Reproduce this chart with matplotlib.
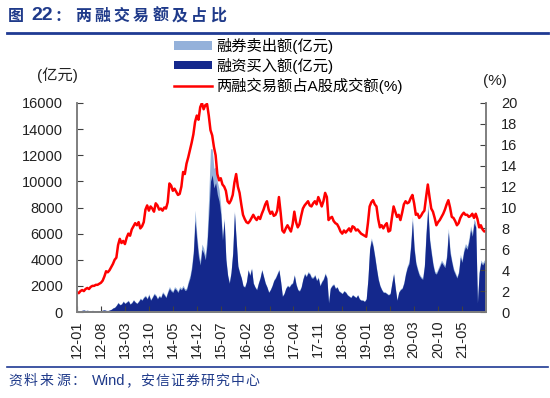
import matplotlib
matplotlib.use("Agg")
import matplotlib.pyplot as plt
import pandas as pd
import numpy as np

plt.rcParams["font.family"] = ["Liberation Sans", "Noto Sans CJK SC", "DejaVu Sans"]

# semi-monthly readings, 2012-01 .. 2021-11
start, end = "2012-01-01", "2021-12-01"

ratio_pct = [
    1.9, 1.8, 2.0, 2.1, 2.0, 2.2, 2.3, 2.2, 2.4, 2.5, 2.5, 2.6, 2.6, 2.7, 2.8, 3.0,
    3.4, 3.9, 3.8, 4.0, 4.3, 4.6, 5.0, 5.2, 6.4, 7.0, 6.6, 6.8, 6.5, 7.1, 7.5, 7.3,
    7.9, 8.2, 8.5, 8.3, 8.6, 8.0, 8.2, 8.6, 9.8, 10.2, 9.7, 10.1, 9.9, 9.6, 10.4, 10.2,
    9.8, 9.9, 9.7, 10.0, 9.9, 10.5, 12.3, 12.1, 11.6, 11.8, 11.5, 11.2, 11.3, 12.0, 13.4, 13.2,
    14.2, 14.8, 15.5, 16.2, 17.0, 18.2, 18.8, 18.4, 19.6, 20.0, 19.4, 19.8, 19.9, 18.8, 17.4, 16.9,
    15.8, 15.0, 13.2, 12.6, 12.8, 12.2, 12.0, 11.6, 10.6, 10.4, 10.7, 11.2, 12.4, 13.2, 12.0, 11.4,
    10.3, 9.3, 8.9, 8.6, 8.5, 8.7, 9.0, 9.3, 9.0, 8.8, 9.1, 8.9, 9.4, 9.8, 10.3, 10.6,
    9.8, 9.4, 9.6, 9.2, 9.3, 9.7, 11.0, 9.5, 7.8, 7.6, 8.0, 8.3, 8.0, 7.7, 8.4, 9.6,
    8.6, 8.1, 8.4, 9.2, 9.9, 10.2, 10.4, 10.6, 10.2, 10.1, 10.4, 10.6, 10.3, 11.0, 10.6, 10.1,
    10.6, 11.4, 11.0, 8.8, 9.0, 9.1, 8.7, 8.5, 8.4, 8.1, 7.7, 7.5, 7.8, 7.6, 7.8, 8.0,
    7.7, 8.2, 8.1, 7.8, 7.9, 7.7, 7.5, 7.4, 7.3, 7.2, 8.5, 10.1, 10.5, 10.7, 10.3, 10.1,
    8.9, 8.1, 8.3, 8.0, 8.3, 8.5, 7.7, 7.8, 9.0, 10.1, 9.6, 9.1, 9.3, 8.8, 9.5, 10.3,
    10.6, 10.4, 10.5, 10.9, 11.2, 10.4, 9.3, 9.4, 9.0, 9.2, 9.5, 9.7, 11.0, 12.2, 11.0, 9.9,
    9.6, 9.0, 8.3, 8.6, 8.8, 9.1, 9.4, 9.8, 10.3, 10.7, 10.0, 9.1, 9.0, 8.7, 8.3, 8.5,
    9.0, 9.3, 9.5, 9.3, 9.3, 9.1, 9.2, 9.4, 9.0, 9.4, 8.9, 8.1, 8.3, 7.9, 7.7, 7.8,
]

margin_buy = [
    120, 100, 90, 130, 150, 110, 130, 100, 90, 120, 100, 80, 110, 90, 100, 140,
    160, 120, 110, 150, 200, 300, 350, 500, 700, 550, 600, 800, 650, 750, 850, 600,
    700, 900, 750, 650, 800, 1000, 900, 1100, 1200, 1000, 1300, 900, 1100, 1350, 1250, 1000,
    1200, 1100, 1450, 1300, 1100, 1500, 1800, 1600, 1500, 1800, 1700, 1500, 1800, 1700, 1900, 1650,
    1700, 2200, 2600, 3300, 4500, 7000, 5500, 4200, 3600, 4800, 4500, 4000, 5200, 7500, 10000, 10500,
    9500, 9900, 9000, 8500, 7500, 5500, 7000, 4000, 2800, 2200, 3000, 4500, 7600, 5500, 3500, 3000,
    2600, 2000, 1900, 2300, 3200, 2800, 3300, 2200, 1900, 1700, 2200, 2600, 3200, 2700, 2200, 1900,
    1500, 1700, 2000, 2400, 2600, 2900, 3200, 2300, 1200, 1400, 1800, 2000, 1900, 2100, 2200, 2800,
    2100, 1700, 1600, 1900, 2500, 2900, 2700, 3000, 2900, 2600, 2600, 2800, 2400, 2600, 2000, 2300,
    2500, 2900, 2600, 700, 1800, 2000, 2100, 1800, 1900, 1600, 1500, 1400, 1600, 1500, 1300, 1200,
    1100, 1300, 1200, 1100, 1300, 1000, 900, 900, 800, 1000, 2500, 4800, 5500, 5000, 4200, 3300,
    2500, 2000, 1700, 1500, 1500, 1400, 1300, 1400, 2200, 2900, 1800, 900, 1500, 1700, 1800, 2200,
    2900, 3400, 3700, 5000, 7000, 4800, 3700, 3200, 2800, 2600, 2500, 3500, 6000, 7900, 5500, 4500,
    3600, 3000, 2900, 3200, 3500, 3800, 3600, 3400, 4200, 6100, 4500, 3800, 3200, 2900, 2600, 3000,
    4200, 3800, 4600, 5000, 4800, 5400, 6300, 5800, 6800, 6500, 700, 3000, 3800, 3600, 3800, 4000,
]

short_sell = [
    10, 10, 10, 10, 10, 10, 10, 10, 10, 10, 10, 10, 10, 10, 10, 10,
    10, 10, 10, 10, 20, 30, 30, 40, 50, 40, 40, 50, 40, 50, 60, 40,
    50, 60, 50, 40, 60, 70, 60, 80, 90, 70, 100, 60, 80, 100, 90, 70,
    90, 80, 110, 100, 80, 120, 150, 120, 110, 140, 130, 110, 140, 130, 150, 130,
    130, 170, 200, 250, 300, 800, 500, 400, 300, 400, 400, 350, 600, 1500, 2500, 2000,
    1500, 1200, 1000, 900, 600, 300, 200, 150, 100, 80, 80, 100, 150, 120, 80, 70,
    60, 50, 50, 60, 80, 70, 80, 60, 50, 50, 60, 70, 80, 70, 60, 50,
    50, 50, 60, 70, 70, 80, 90, 70, 40, 50, 60, 60, 60, 70, 70, 90,
    70, 60, 60, 60, 80, 90, 90, 100, 90, 90, 90, 90, 80, 90, 70, 80,
    90, 100, 90, 30, 60, 70, 70, 60, 60, 50, 50, 50, 50, 50, 40, 40,
    40, 40, 40, 40, 40, 30, 30, 30, 30, 30, 80, 150, 180, 160, 140, 110,
    90, 70, 60, 50, 50, 50, 50, 50, 80, 110, 70, 40, 60, 70, 70, 90,
    120, 140, 160, 220, 320, 220, 170, 150, 130, 120, 120, 160, 280, 380, 260, 210,
    170, 140, 140, 150, 170, 180, 170, 160, 200, 300, 220, 180, 150, 140, 120, 140,
    200, 180, 220, 240, 230, 260, 300, 280, 330, 310, 40, 140, 180, 170, 180, 190,
]

dates = pd.date_range(start, end, periods=len(ratio_pct))
tick_dates = pd.date_range("2012-01-01", "2021-05-01", freq="7MS")

navy = "#14288C"
light = "#94B1DA"
title_blue = "#1F3A8A"
W, H = 550, 398

fig = plt.figure(figsize=(5.5, 3.98), dpi=100)
ax = fig.add_axes([77 / W, 1 - 312 / H, (486 - 77) / W, (312 - 103) / H])
ax2 = ax.twinx()

buy = np.array(margin_buy, dtype=float)
total = buy + np.array(short_sell, dtype=float)
ax.fill_between(dates, 0, total, color=light, linewidth=0, label="融券卖出额(亿元)")
ax.fill_between(dates, 0, buy, color=navy, linewidth=0, label="融资买入额(亿元)")
ax2.plot(dates, ratio_pct, color="#FF0000", linewidth=1.8, label="两融交易额占A股成交额(%)")

ax.set_xlim(pd.Timestamp(start), pd.Timestamp(end))
ax.set_ylim(0, 16000)
ax2.set_ylim(0, 20)
ax.set_yticks(np.arange(0, 16001, 2000))
ax2.set_yticks(np.arange(0, 21, 2))
ax.set_xticks(tick_dates)
ax.set_xticklabels([d.strftime("%y-%m") for d in tick_dates], rotation=90)

for a in (ax, ax2):
    a.spines["top"].set_visible(False)
    for s in ("left", "right", "bottom"):
        a.spines[s].set_color("#7F7F7F")
        a.spines[s].set_linewidth(1.2)
    a.tick_params(direction="in", length=4, color="#404040", labelsize=10.5, labelcolor="#222222")
ax.tick_params(axis="y", pad=10)
ax2.tick_params(axis="y", pad=11)
ax.tick_params(axis="x", pad=6)

fig.text(57 / W, 1 - 75 / H, "(亿元)", ha="center", va="center", fontsize=11, color="#222222")
fig.text(495 / W, 1 - 81 / H, "(%)", ha="center", va="center", fontsize=11, color="#222222")

h1, l1 = ax.get_legend_handles_labels()
h2, l2 = ax2.get_legend_handles_labels()
fig.legend(h1 + h2, l1 + l2, loc="upper left", bbox_to_anchor=(174 / W, 1 - 38 / H),
           frameon=False, fontsize=11, handlelength=2.5, handleheight=0.45,
           handletextpad=0.26, labelspacing=0.25, borderaxespad=0, borderpad=0)

# header: letter-spaced title
fig.text(8 / W, 1 - 16 / H, "图", ha="left", va="center", fontsize=11.5,
         fontweight="bold", color=title_blue)
fig.text(31 / W, 1 - 16 / H, "22", ha="left", va="center", fontsize=14,
         fontweight="bold", color=title_blue)
fig.text(55 / W, 1 - 16 / H, "：", ha="left", va="center", fontsize=11.5,
         fontweight="bold", color=title_blue)
for i, ch in enumerate("两融交易额及占比"):
    fig.text((75 + i * 19.3) / W, 1 - 16 / H, ch, ha="left", va="center", fontsize=11.5,
             fontweight="bold", color=title_blue)
fig.add_artist(plt.Line2D([7 / W, 548 / W], [1 - 33 / H] * 2, color="#1F3A93", linewidth=2))
fig.add_artist(plt.Line2D([7 / W, 548 / W], [1 - 367 / H] * 2, color="#1F3A93", linewidth=1.2))

# footer, letter-spaced like the source
fy = 1 - 381 / H
for i, ch in enumerate("资料来源："):
    fig.text((8 + i * 16.0) / W, fy, ch, ha="left", va="center", fontsize=10, color=title_blue)
fig.text(92 / W, fy, "Wind", ha="left", va="center", fontsize=10.5, color=title_blue)
for i, ch in enumerate("，安信证券研究中心"):
    fig.text((125 + i * 15.1) / W, fy, ch, ha="left", va="center", fontsize=10, color=title_blue)

fig.savefig("out.png", dpi=100)
